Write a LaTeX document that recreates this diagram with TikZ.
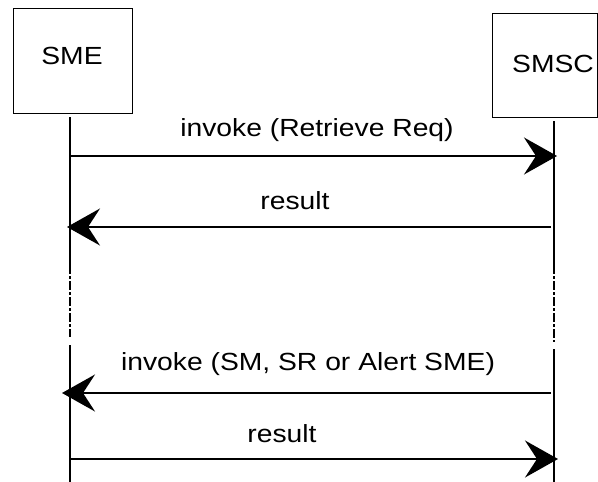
\documentclass[tikz,border=0pt]{standalone}
\usepackage{fontspec}
\setmainfont{Liberation Sans}
\usetikzlibrary{arrows.meta}
\begin{document}
\begin{tikzpicture}[x=1pt,y=-1pt,
  boxnode/.style={draw,line width=1pt,inner sep=0pt,anchor=north west},
  lbl/.style={anchor=base,inner sep=0pt,font=\fontsize{24.8}{29}\selectfont},
  life/.style={line width=2.2pt},
  lifedash/.style={line width=2.2pt,dash pattern={on 9pt off 2pt on 3pt off 2pt}},
  msg/.style={line width=2pt,-{Stealth[length=33pt,width=37pt,inset=12pt]}}]
\useasboundingbox (0,0) rectangle (598,482);
% boxes
\node[boxnode,minimum width=119pt,minimum height=105pt] (smebox) at (13,8) {};
\node[boxnode,minimum width=105pt,minimum height=104pt] (smscbox) at (492,13) {};
\node[lbl] (smetxt) at (72,64) {\scalebox{1.14}[1]{SME}};
\node[lbl] (smsctxt) at (553,72) {\scalebox{1.14}[1]{SMSC}};
% lifeline coordinates
\coordinate (a0) at (70,117);
\coordinate (a1) at (70,265);
\coordinate (a2) at (70,337);
\coordinate (a3) at (70,345);
\coordinate (a4) at (70,482);
\coordinate (b0) at (554,121);
\coordinate (b1) at (554,265);
\coordinate (b2) at (554,342);
\coordinate (b3) at (554,349);
\coordinate (b4) at (554,482);
\draw[life] (a0) -- (a1);
\draw[lifedash] (a1) -- (a2);
\draw[life] (a3) -- (a4);
\draw[life] (b0) -- (b1);
\draw[lifedash] (b1) -- (b2);
\draw[life] (b3) -- (b4);
% messages
\coordinate (m1s) at (70,156);  \coordinate (m1e) at (557,156);
\coordinate (m2s) at (551,227); \coordinate (m2e) at (67,227);
\coordinate (m3s) at (551,393); \coordinate (m3e) at (62,393);
\coordinate (m4s) at (70,459);  \coordinate (m4e) at (558,459);
\draw[msg] (m1s) -- (m1e);
\draw[msg] (m2s) -- (m2e);
\draw[msg] (m3s) -- (m3e);
\draw[msg] (m4s) -- (m4e);
\node[lbl] (l1) at (317,136) {\scalebox{1.14}[1]{invoke (Retrieve Req)}};
\node[lbl] (l2) at (295,209) {\scalebox{1.14}[1]{result}};
\node[lbl] (l3) at (308,370) {\scalebox{1.14}[1]{invoke (SM, SR or Alert SME)}};
\node[lbl] (l4) at (282,442) {\scalebox{1.14}[1]{result}};
\end{tikzpicture}
\end{document}
